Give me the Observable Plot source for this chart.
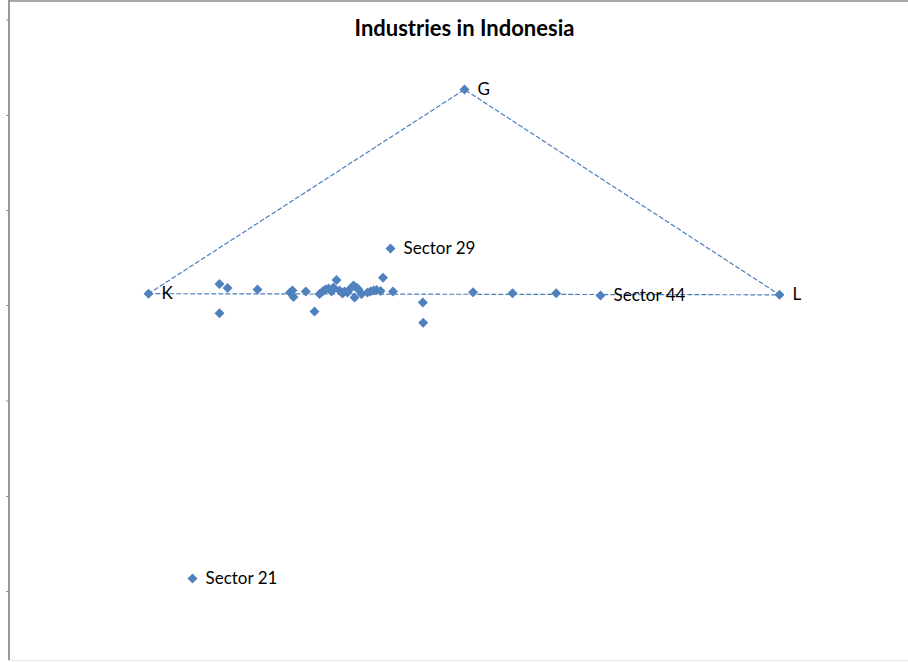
<!DOCTYPE html>
<html>
<head>
<meta charset="utf-8">
<script src="https://cdn.jsdelivr.net/npm/d3@7"></script>
<script src="https://cdn.jsdelivr.net/npm/@observablehq/plot@0.6"></script>
<style>
  body { margin: 0; background: #fff; }
  #wrap { position: relative; width: 908px; height: 662px; overflow: hidden; font-family: Lato, "Open Sans", sans-serif; }
  #title { position: absolute; left: 0; width: 929px; top: 16px; text-align: center; font-weight: bold; font-size: 22px; line-height: 24px; color: #000; z-index: 2; }
  #topline { position: absolute; left: 8px; top: 0px; width: 900px; height: 2px; background: #a8a8a8; z-index: 3; }
  #leftline { position: absolute; left: 8px; top: 0px; width: 2px; height: 661px; background: #9a9a9a; z-index: 3; }
  #bottomline { position: absolute; left: 8px; top: 660px; width: 900px; height: 1px; background: #e4e4e4; z-index: 3; }
  #plot { position: absolute; left: 0; top: 0; }
</style>
</head>
<body>
<div id="wrap">
  <div id="title">Industries in Indonesia</div>
  <div id="plot"></div>
  <div id="topline"></div>
  <div id="leftline"></div>
  <div id="bottomline"></div>
</div>
<script>
// Triangle vertices (labeled)
const vertexNames = ["K", "G", "L"];
const vertexX = [0, 50.08, 100];
const vertexY = [0.05, 32.41, -0.13];

// Labeled sectors
const sectorNames = ["Sector 29", "Sector 21", "Sector 44"];
const sectorLabX = [38.35, 6.97, 71.63];
const sectorLabY = [7.21, -45.09, -0.24];

// Other (unlabeled) sectors
const otherX = [11.25, 12.52, 11.25, 17.27, 22.42, 22.82, 22.98, 24.93, 26.31, 27.10,
                27.58, 28.05, 28.53, 29.00, 29.32, 29.79, 30.27, 30.74, 31.06, 31.54,
                32.01, 32.49, 32.65, 32.96, 33.28, 33.76, 34.71, 35.18, 35.66, 36.13,
                36.77, 37.16, 38.75, 43.47, 43.53, 51.43, 57.69, 64.61];
const otherY = [1.58, 0.95, -3.04, 0.71, 0.24, 0.55, -0.48, 0.40, -2.77, 0.00,
                0.40, 0.71, 0.87, 0.40, 1.03, 2.22, 0.55, 0.08, 0.40, 0.24,
                0.87, 1.35, -0.55, 1.03, 0.71, 0.00, 0.24, 0.40, 0.55, 0.63,
                0.48, 2.57, 0.40, -1.35, -4.56, 0.29, 0.13, 0.13];

// Y axis ticks (no labels shown)
const yTicks = [43.45, 28.29, 13.23, -1.82, -16.96, -32.09, -47.15];

const vertices = vertexNames.map((n, i) => ({name: n, x: vertexX[i], y: vertexY[i]}));
const labeled = sectorNames.map((n, i) => ({name: n, x: sectorLabX[i], y: sectorLabY[i]}));
const others = otherX.map((x, i) => ({x, y: otherY[i]}));
const triangle = [vertices[0], vertices[1], vertices[2], vertices[0]];
const allPoints = [...others, ...labeled, ...vertices];
const allLabels = [...vertices, ...labeled];

const chart = Plot.plot({
  width: 908,
  height: 662,
  marginLeft: 9,
  marginRight: 0,
  marginTop: 2,
  marginBottom: 1,
  x: {domain: [-22.03, 120.44], axis: null},
  y: {domain: [-58.24, 46.20], label: null},
  style: {fontFamily: "Lato, 'Open Sans', sans-serif", background: "transparent", overflow: "visible"},
  marks: [
    Plot.axisY({ticks: yTicks, tickFormat: () => "", tickSize: 3, stroke: "#8c8c8c", anchor: "left", label: null}),
    Plot.line(triangle, {x: "x", y: "y", stroke: "#4a7ebb", strokeWidth: 1.2, strokeDasharray: "4,3"}),
    Plot.dot(allPoints, {x: "x", y: "y", symbol: "diamond2", r: 4.5, fill: "#4f81bd", stroke: "none"}),
    Plot.text(allLabels, {x: "x", y: "y", text: "name", dx: 13, textAnchor: "start", fill: "#000", fontSize: 17})
  ]
});
document.getElementById("plot").appendChild(chart);
</script>
</body>
</html>
